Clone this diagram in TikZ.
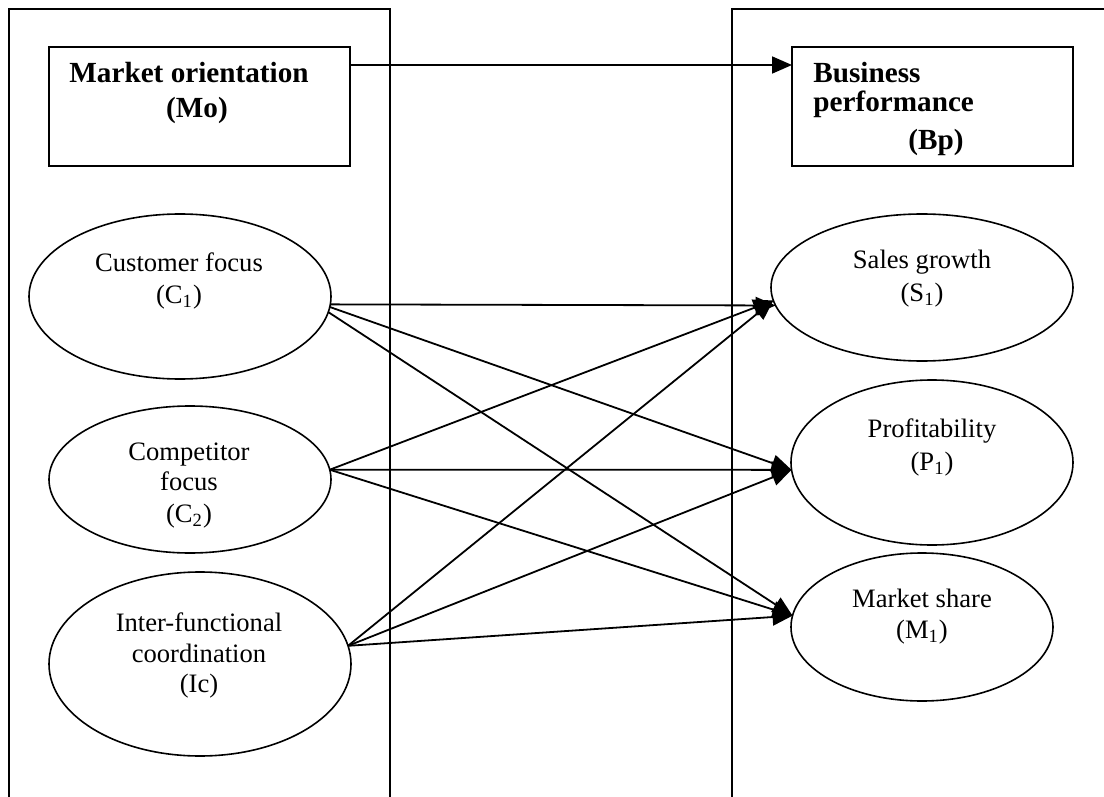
\documentclass[tikz,border=0pt]{standalone}
\usepackage{fontspec}
\setmainfont{Liberation Serif}
\usetikzlibrary{arrows.meta,shapes.geometric}
\tikzset{
  panel/.style={line width=1pt},
  headbox/.style={draw, rectangle, line width=1pt, inner sep=0pt, outer sep=0pt, minimum height=59.5pt},
  oval/.style={draw, ellipse, line width=0.8pt, inner sep=0pt, outer sep=0pt},
  lbl/.style={inner sep=0pt, anchor=base, font=\fontsize{13.3}{15}\selectfont},
  blbl/.style={inner sep=0pt, anchor=base west, font=\fontsize{14.6}{17}\selectfont\bfseries},
  link/.style={line width=0.9pt, -{Triangle[length=10pt,width=8.5pt]}}
}
\begin{document}
\begin{tikzpicture}[x=0.5pt,y=-0.5pt]
\useasboundingbox (0,0) rectangle (1104,797);
% panels
\draw[panel] (9,797) -- (9,9.5) -- (390,9.5) -- (390,797);
\draw[panel] (732,797) -- (732,9.5) -- (1104,9.5);
% header boxes
\node[headbox, minimum width=150.5pt] (Mo) at (199.5,106.5) {};
\node[headbox, minimum width=140.5pt] (Bp) at (932.5,106.5) {};
\node[blbl] (MoT1) at (69,83) {Market orientation};
\node[blbl, anchor=base] (MoT2) at (197,118) {(Mo)};
\node[blbl] (BpT1) at (813,83) {Business};
\node[blbl] (BpT2) at (813,112) {performance};
\node[blbl] (BpT3) at (908,150) {(Bp)};
% ellipses
\node[oval, minimum width=151pt, minimum height=82.5pt] (C1) at (180,296.5) {};
\node[oval, minimum width=141pt, minimum height=73.5pt] (C2) at (190,479.5) {};
\node[oval, minimum width=151pt, minimum height=92pt] (Ic) at (200,664) {};
\node[oval, minimum width=151pt, minimum height=73.5pt] (S1) at (922,287.5) {};
\node[oval, minimum width=141pt, minimum height=82.5pt] (P1) at (932,462.5) {};
\node[oval, minimum width=131pt, minimum height=74pt] (M1) at (922,627) {};
% ellipse texts
\node[lbl] (C1a) at (179,271) {Customer focus};
\node[lbl] (C1b) at (179,303) {(C\textsubscript{1})};
\node[lbl] (C2a) at (189,460) {Competitor};
\node[lbl] (C2b) at (189,490) {focus};
\node[lbl] (C2c) at (189,522) {(C\textsubscript{2})};
\node[lbl] (Ica) at (199,631) {Inter-functional};
\node[lbl] (Icb) at (199,662) {coordination};
\node[lbl] (Icc) at (199,692) {(Ic)};
\node[lbl] (S1a) at (922,268) {Sales growth};
\node[lbl] (S1b) at (922,301) {(S\textsubscript{1})};
\node[lbl] (P1a) at (932,437) {Profitability};
\node[lbl] (P1b) at (932,470) {(P\textsubscript{1})};
\node[lbl] (M1a) at (922,607) {Market share};
\node[lbl] (M1b) at (922,638) {(M\textsubscript{1})};
% connectors
\coordinate (toprow) at (0,65);
\draw[link] (Mo.east |- toprow) -- (Bp.west |- toprow);
\draw[link] (C1.-3.9) -- (S1.187.3);
\draw[link] (C1.-4) -- (P1.183.2);
\draw[link] (C1.-6.4) -- (M1.175.9);
\draw[link] (C2.4.8) -- (S1.185.6);
\draw[link] (C2.4.8) -- (P1.183.2);
\draw[link] (C2.4.8) -- (M1.175.9);
\draw[link] (Ic.7.2) -- (S1.185.6);
\draw[link] (Ic.7.2) -- (P1.183.2);
\draw[link] (Ic.7.2) -- (M1.175.9);
\end{tikzpicture}
\end{document}
